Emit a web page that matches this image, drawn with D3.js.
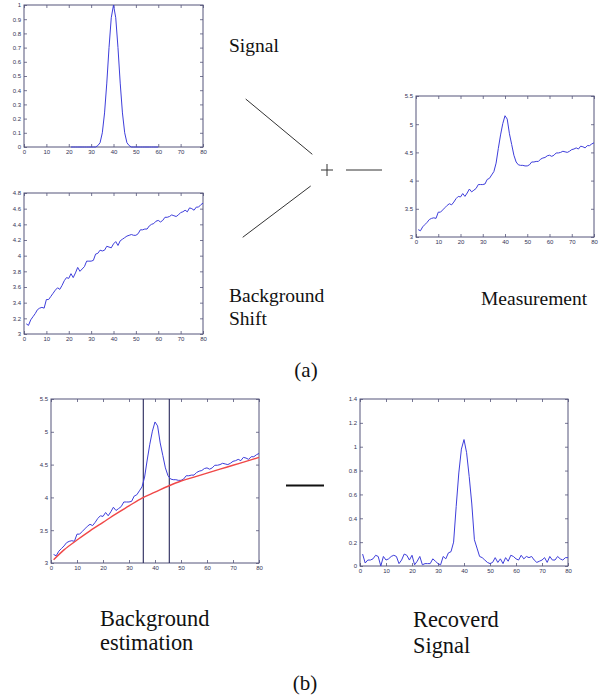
<!DOCTYPE html>
<html><head><meta charset="utf-8">
<script src="https://cdn.jsdelivr.net/npm/d3@7"></script>
<style>body{margin:0;background:#fff}svg{display:block}</style>
</head><body>
<script>
// ---- data ----
const xTicks = [0,10,20,30,40,50,60,70,80];
const signalX = d3.range(21, 61);
const signalY = [0,0,0,0,0,0,0,0,0,0,0,0,0.01,0.03,0.10,0.24,0.45,0.70,0.91,1.00,0.91,0.70,0.45,0.24,0.10,0.03,0.01,0,0,0,0,0,0,0,0,0,0,0,0,0];
const sampleX = d3.range(1, 81);
const background = [3.13,3.11,3.18,3.22,3.26,3.31,3.33,3.34,3.33,3.44,3.44,3.48,3.52,3.56,3.59,3.57,3.62,3.68,3.72,3.71,
  3.77,3.72,3.78,3.85,3.80,3.83,3.86,3.93,3.93,3.93,3.94,4.02,4.03,4.07,4.06,4.07,4.12,4.11,4.10,4.15,
  4.18,4.13,4.19,4.21,4.23,4.25,4.26,4.27,4.26,4.26,4.28,4.33,4.33,4.34,4.34,4.38,4.40,4.41,4.44,4.45,
  4.43,4.45,4.49,4.49,4.50,4.52,4.51,4.50,4.52,4.55,4.56,4.58,4.56,4.61,4.60,4.58,4.62,4.62,4.65,4.67];
const measurement = [3.13,3.11,3.18,3.22,3.26,3.31,3.33,3.34,3.33,3.44,3.44,3.48,3.52,3.56,3.59,3.57,3.62,3.68,3.72,3.71,
  3.77,3.72,3.78,3.85,3.80,3.83,3.86,3.93,3.93,3.93,3.94,4.02,4.04,4.10,4.16,4.31,4.57,4.81,5.01,5.15,
  5.09,4.83,4.64,4.45,4.33,4.28,4.27,4.27,4.26,4.26,4.28,4.33,4.33,4.34,4.34,4.38,4.40,4.41,4.44,4.45,
  4.43,4.45,4.49,4.49,4.50,4.52,4.51,4.50,4.52,4.55,4.56,4.58,4.56,4.61,4.60,4.58,4.62,4.62,4.65,4.67];
const fitX = [1,5,10,15,20,25,30,35,40,45,50,55,60,65,70,75,80];
const fitY = [3.05,3.20,3.35,3.49,3.62,3.75,3.87,3.99,4.08,4.17,4.25,4.31,4.37,4.43,4.49,4.55,4.61];
const windowX = [35.5, 45.5];
const recovered = [0.10,0.025,0.05,0.05,0.06,0.09,0.08,0.00,0.08,0.05,0.06,0.08,0.09,0.08,0.02,0.05,0.10,0.09,0.05,0.09,
  0.01,0.04,0.08,0.01,0.02,0.02,0.02,0.06,0.04,0.02,0.01,0.08,0.06,0.11,0.12,0.20,0.50,0.78,0.98,1.06,
  0.95,0.75,0.52,0.22,0.15,0.08,0.07,0.05,0.03,0.02,0.03,0.07,0.03,0.06,0.02,0.07,0.04,0.09,0.08,0.06,
  0.05,0.09,0.06,0.08,0.07,0.08,0.05,0.03,0.04,0.05,0.07,0.03,0.08,0.05,0.05,0.08,0.06,0.05,0.07,0.07];
const yTicksSignal = [0,0.1,0.2,0.3,0.4,0.5,0.6,0.7,0.8,0.9,1];
const yTicksBg = [3,3.2,3.4,3.6,3.8,4,4.2,4.4,4.6,4.8];
const yTicksMeas = [3,3.5,4,4.5,5,5.5];
const yTicksRec = [0,0.2,0.4,0.6,0.8,1,1.2,1.4];

// ---- drawing ----
const W = 605, H = 696;
const svg = d3.select("body").append("svg").attr("width", W).attr("height", H);
const BLUE = "#3e3edb", AXIS = "#55557a", LABEL = "#333355";

function panel(box, yDomain, yTicks, series, extra) {
  const x = d3.scaleLinear().domain([0, 80]).range([box.x0, box.x1]);
  const y = d3.scaleLinear().domain(yDomain).range([box.y1, box.y0]);
  const g = svg.append("g");
  const fmt = d => String(+d.toFixed(2));
  const tk = 3;
  const axB = d3.axisBottom(x).tickValues(xTicks).tickFormat(fmt).tickSizeInner(-tk).tickSizeOuter(0).tickPadding(3);
  const axT = d3.axisTop(x).tickValues(xTicks).tickFormat("").tickSizeInner(-tk).tickSizeOuter(0);
  const axL = d3.axisLeft(y).tickValues(yTicks).tickFormat(fmt).tickSizeInner(-tk).tickSizeOuter(0).tickPadding(3);
  const axR = d3.axisRight(y).tickValues(yTicks).tickFormat("").tickSizeInner(-tk).tickSizeOuter(0);
  [[axB, `translate(0,${box.y1})`], [axT, `translate(0,${box.y0})`], [axL, `translate(${box.x0},0)`], [axR, `translate(${box.x1},0)`]]
    .forEach(([ax, tr]) => {
      const a = g.append("g").attr("transform", tr).call(ax);
      a.attr("font-family", "Liberation Sans").attr("font-size", 6);
      a.select(".domain").remove();
      a.selectAll("line").attr("stroke", AXIS).attr("stroke-width", 0.8);
      a.selectAll("text").attr("fill", LABEL);
    });
  g.append("rect").attr("x", box.x0).attr("y", box.y0).attr("width", box.x1 - box.x0).attr("height", box.y1 - box.y0)
    .attr("fill", "none").attr("stroke", AXIS).attr("stroke-width", 1);
  if (extra) extra(g, x, y);
  series.forEach(s => {
    const line = d3.line().x((d, i) => x(s.x[i])).y(d => y(d));
    if (s.curve) line.curve(s.curve);
    g.append("path").datum(s.y).attr("d", line).attr("fill", "none")
      .attr("stroke", s.color).attr("stroke-width", s.width || 1);
  });
}

panel({x0:24, x1:203, y0:5, y1:147}, [0,1], yTicksSignal, [{x: signalX, y: signalY, color: BLUE}]);
panel({x0:24, x1:203, y0:193, y1:334}, [3,4.8], yTicksBg, [{x: sampleX, y: background, color: BLUE}]);
panel({x0:416, x1:594, y0:96, y1:237}, [3,5.5], yTicksMeas, [{x: sampleX, y: measurement, color: BLUE}]);
panel({x0:51, x1:259, y0:399, y1:563}, [3,5.5], yTicksMeas, [
  {x: sampleX, y: measurement, color: BLUE},
  {x: fitX, y: fitY, color: "#f04848", width: 1.4, curve: d3.curveMonotoneX}
], (g, x, y) => {
  windowX.forEach(v => g.append("line").attr("x1", x(v)).attr("x2", x(v)).attr("y1", y(5.5)).attr("y2", y(3))
    .attr("stroke", "#26265a").attr("stroke-width", 1.1));
});
panel({x0:360, x1:568, y0:399, y1:566}, [0,1.4], yTicksRec, [{x: sampleX, y: recovered, color: BLUE}]);

// ---- annotations ----
function txt(x, y, s, size, anchor) {
  svg.append("text").attr("font-family", "Liberation Serif").attr("x", x).attr("y", y).text(s).attr("fill", "#111")
    .attr("font-size", size).attr("text-anchor", anchor || "start");
}
txt(229, 52, "Signal", 19.5);
txt(229, 302, "Background", 19.5);
txt(229, 325, "Shift", 19.5);
txt(481, 305, "Measurement", 19.5);
txt(306, 377, "(a)", 21, "middle");
txt(100, 626, "Background", 22.4);
txt(100, 650, "estimation", 22.4);
txt(413, 627, "Recoverd", 22.4);
txt(413, 653, "Signal", 22.4);
txt(305, 690, "(b)", 21, "middle");

const drawLine = (x1, y1, x2, y2, c, w) => svg.append("line").attr("x1", x1).attr("y1", y1).attr("x2", x2).attr("y2", y2)
  .attr("stroke", c).attr("stroke-width", w);
drawLine(245.7, 99, 312.3, 154.3, "#333", 1);
drawLine(242.7, 237.3, 310.7, 186, "#333", 1);
drawLine(346, 170, 382, 170, "#333", 1);
drawLine(321, 170, 333, 170, "#333", 1);
drawLine(327, 164, 327, 176, "#333", 1);
drawLine(286, 485.5, 324, 485.5, "#111", 2.2);
</script>
</body></html>
